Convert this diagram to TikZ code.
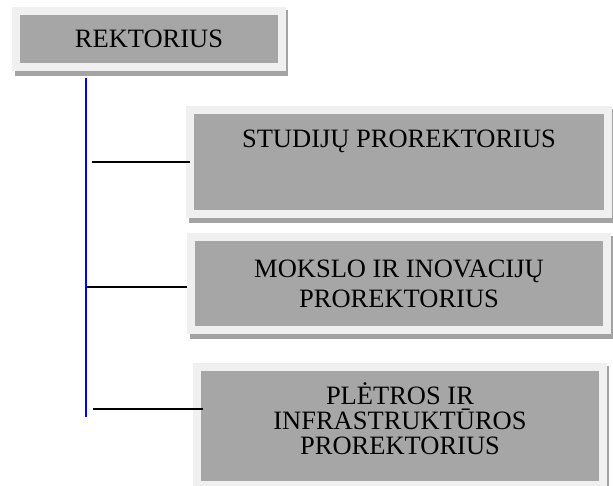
\documentclass[tikz,border=0pt]{standalone}
\usepackage{fontspec}
\setmainfont{Liberation Serif}
\usetikzlibrary{backgrounds,calc}
\definecolor{boxfill}{HTML}{A6A6A6}
\definecolor{boxrim}{HTML}{F0F0F0}
\definecolor{boxshadow}{HTML}{A3A3A3}
\tikzset{
  orgbox/.style={rectangle, fill=boxfill, draw=boxrim, line width=8pt, inner sep=0pt,
    align=center, font=\fontsize{26.5}{30}\selectfont, text=black},
  trunk/.style={draw=blue, line width=1.5pt},
  branch/.style={draw=black, line width=1.5pt},
  shadowfill/.style={fill=boxshadow},
}
\begin{document}
\begin{tikzpicture}[x=1pt,y=-1pt]
\useasboundingbox (0,0) rectangle (613,486);
\node[orgbox, minimum width=266pt, minimum height=56pt] (rek) at (149,39) {REKTORIUS};
\node[orgbox, minimum width=418pt, minimum height=104pt, text height=18pt, text depth=46.6pt] (stud) at (399,162) {STUDIJŲ PROREKTORIUS};
\node[orgbox, minimum width=416pt, minimum height=93pt] (moks) at (399,283.5) {MOKSLO IR INOVACIJŲ\\PROREKTORIUS};
\node[orgbox, minimum width=406pt, minimum height=118pt, font=\fontsize{26.5}{25}\selectfont] (plet) at (400,426) {PLĖTROS IR\\INFRASTRUKTŪROS\\PROREKTORIUS\rule[-14pt]{0pt}{14pt}};
\begin{scope}[on background layer]
  \foreach \n in {rek,stud,moks,plet}
    \fill[shadowfill] ($(\n.north west)+(3,3)$) rectangle ($(\n.south east)+(2,5)$);
\end{scope}
\coordinate (t0) at (86,78);
\coordinate (t1) at (86,417);
\draw[trunk] (t0) -- (t1);
\coordinate (b1) at (92,162);
\coordinate (b2) at (87,287);
\coordinate (b3) at (93,409);
\draw[branch] (b1) -- ($(b1 -| stud.west)+(4,0)$);
\draw[branch] (b2) -- (b2 -| moks.west);
\draw[branch] (b3) -- ($(b3 -| plet.west)+(10,0)$);
\end{tikzpicture}
\end{document}
